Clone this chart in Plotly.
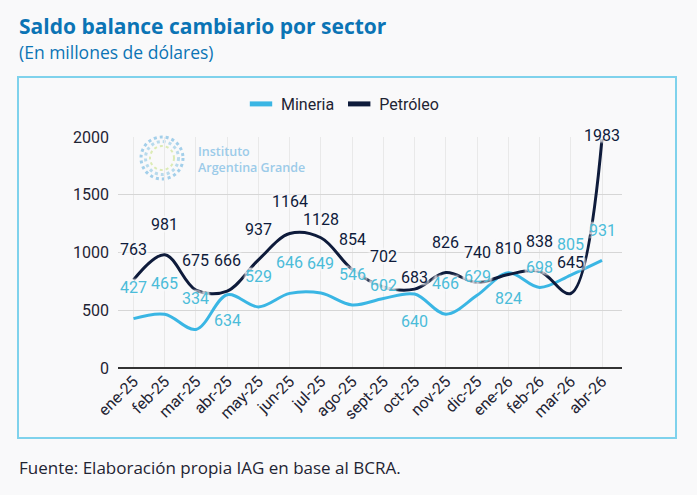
import plotly.graph_objects as go

months = ["ene-25", "feb-25", "mar-25", "abr-25", "may-25", "jun-25", "jul-25", "ago-25",
          "sept-25", "oct-25", "nov-25", "dic-25", "ene-26", "feb-26", "mar-26", "abr-26"]
mineria = [427, 465, 334, 634, 529, 646, 649, 546, 602, 640, 466, 629, 824, 698, 805, 931]
petroleo = [763, 981, 675, 666, 937, 1164, 1128, 854, 702, 683, 826, 740, 810, 838, 645, 1983]
y_ticks = [0, 500, 1000, 1500, 2000]

# label offsets (pixels, positive = above the point)
petroleo_label_shift = [30, 30, 30, 31, 30, 32, 18, 30, 30, 12, 30, 30, 26, 30, 31, 3]
mineria_label_shift = [31, 31, 31, -26, 30, 31, 30, 30, 13, -27, 31, 19, -26, 20, 31, 30]

BG = "#f9f9fa"
C_MIN = "#3ab6e4"
C_MIN_TXT = "#4bbcd9"
C_PET = "#0e1b3b"
TITLE_C = "#0b74b5"
TXT = "#1f2433"

W, H = 697, 495
L, R, T, B = 118, 75, 137, 127
pw, ph = W - L - R, H - T - B

def px_x(x):
    return (x - L) / pw

def px_y(y):
    return (H - B - y) / ph

fig = go.Figure()
fig.add_trace(go.Scatter(x=months, y=mineria, name="Mineria", mode="lines", showlegend=False,
                         line=dict(color=C_MIN, width=3, shape="spline", smoothing=1)))
fig.add_trace(go.Scatter(x=months, y=petroleo, name="Petróleo", mode="lines", showlegend=False,
                         line=dict(color=C_PET, width=3, shape="spline", smoothing=1)))
# legend entries with short bar symbols
for nm, col in [("Mineria", C_MIN), ("Petróleo", C_PET)]:
    fig.add_trace(go.Scatter(x=[None], y=[None], name=nm, mode="markers",
                             marker=dict(symbol="line-ew", size=17, color=col,
                                         line=dict(color=col, width=5))))

shadow = "2px 2px 2px %s, -2px -2px 2px %s, 2px -2px 2px %s, -2px 2px 2px %s" % (BG, BG, BG, BG)
anns = []
for m, v, s in zip(months, petroleo, petroleo_label_shift):
    anns.append(dict(x=m, y=v, text=str(v), showarrow=False, yshift=s,
                     font=dict(family="Roboto", size=16, color=C_PET, shadow=shadow)))
for m, v, s in zip(months, mineria, mineria_label_shift):
    anns.append(dict(x=m, y=v, text=str(v), showarrow=False, yshift=s,
                     font=dict(family="Roboto", size=16, color=C_MIN_TXT, shadow=shadow)))

# titles
anns.append(dict(xref="paper", yref="paper", x=px_x(17), y=px_y(26), xanchor="left", yanchor="middle",
                 text="<b>Saldo balance cambiario por sector</b>", showarrow=False,
                 font=dict(family="Open Sans", size=21, color=TITLE_C)))
anns.append(dict(xref="paper", yref="paper", x=px_x(17), y=px_y(52), xanchor="left", yanchor="middle",
                 text="(En millones de dólares)", showarrow=False,
                 font=dict(family="Open Sans", size=17.5, color=TITLE_C)))
anns.append(dict(xref="paper", yref="paper", x=px_x(17), y=px_y(467), xanchor="left", yanchor="middle",
                 text="Fuente: Elaboración propia IAG en base al BCRA.", showarrow=False,
                 font=dict(family="Open Sans", size=17, color=TXT)))
# watermark logo text
anns.append(dict(xref="paper", yref="paper", x=px_x(196), y=px_y(159), xanchor="left", yanchor="middle",
                 text="Instituto<br>Argentina Grande", showarrow=False, align="left",
                 font=dict(family="Open Sans", size=12.5, color="#9ccbe9", weight=600)))

shapes = [
    dict(type="rect", xref="paper", yref="paper", x0=px_x(18), x1=px_x(676), y0=px_y(438), y1=px_y(77),
         line=dict(color="#7fd2ec", width=2), fillcolor="rgba(0,0,0,0)", layer="below"),
]
cx, cy = 162, 158
for r, col, w in [(21, "#a3cfea", 3), (16.5, "#b8daec", 3), (12, "#dcebb5", 2)]:
    shapes.append(dict(type="circle", xref="paper", yref="paper",
                       x0=px_x(cx - r), x1=px_x(cx + r), y0=px_y(cy + r), y1=px_y(cy - r),
                       line=dict(color=col, width=w, dash="dot"), layer="below"))

fig.update_layout(
    width=W, height=H,
    margin=dict(l=L, r=R, t=T, b=B),
    paper_bgcolor=BG, plot_bgcolor=BG,
    font=dict(family="Roboto", size=15, color=TXT),
    showlegend=True,
    legend=dict(orientation="h", x=px_x(241), y=px_y(104), xanchor="left", yanchor="middle",
                font=dict(family="Roboto", size=16, color=TXT), bgcolor="rgba(0,0,0,0)",
                itemwidth=30),
    annotations=anns,
    shapes=shapes,
)
fig.update_xaxes(type="category", tickangle=-45, showgrid=True, gridcolor="#e9e9e9", gridwidth=1,
                 ticks="", tickfont=dict(family="Roboto", size=16, color=TXT),
                 showline=False, zeroline=False)
fig.update_yaxes(range=[0, 2000], tickvals=y_ticks, showgrid=True, gridcolor="#d6d6d6", gridwidth=1,
                 zeroline=True, zerolinecolor="#333333", zerolinewidth=1.5,
                 tickfont=dict(family="Roboto", size=16, color=TXT), ticks="", ticklabelstandoff=8)

fig.write_html("out.html")
